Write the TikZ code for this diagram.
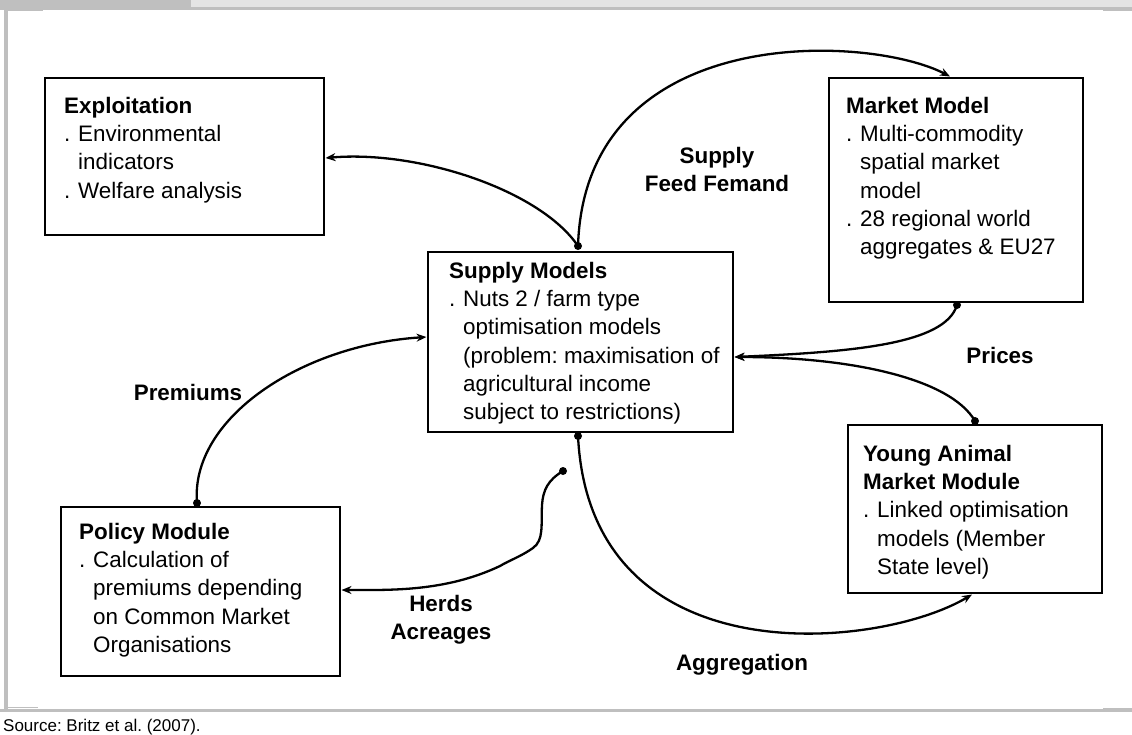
\documentclass[tikz,border=0pt]{standalone}
\usepackage{fontspec}
\setmainfont{Liberation Sans}
\usetikzlibrary{arrows.meta,calc}
\frenchspacing

\definecolor{framegray}{HTML}{BFBFBF}
\definecolor{bandgray}{HTML}{E4E4E4}

% bullet marker and hanging indent for the box texts
\newcommand\bulletdot{\makebox[14pt][l]{.}}
\newcommand\bulletgap{\hspace*{14pt}}
% fixed first-line height, so that the text's top lies 20pt above its first baseline
\newcommand\firstline{\rule{0pt}{20pt}}

\begin{document}
\begin{tikzpicture}[x=1pt,y=-1pt,
  modelbox/.style={draw, line width=2.6pt, rectangle, inner sep=0pt, outer sep=0pt},
  boxtext/.style={anchor=north west, align=left, inner sep=0pt,
    font=\fontsize{22.4}{28.3}\selectfont},
  flowlabel/.style={align=center, inner sep=0pt,
    font=\fontsize{22.4}{28}\selectfont\bfseries},
  link/.style={line width=2.3pt, -{Stealth[length=10pt,width=8pt]}},
  joint/.style={fill=black}
]
\useasboundingbox (0,0) rectangle (1132,734);

% page frame: header band, left rule, bottom rule
\fill[framegray] (0,0) rectangle (191,10);
\fill[bandgray] (191,0) rectangle (1132,7);
\fill[framegray] (191,7) rectangle (1132,10);
\fill[framegray] (1103,10) rectangle (1132,11);
\fill[framegray] (8,10) rectangle (43,11);
\fill[framegray] (4,10) rectangle (8,709);
\fill[framegray] (8,706.5) rectangle (38,707.5);
\fill[framegray] (1103,707.5) rectangle (1132,709);
\fill[framegray] (0,709) rectangle (1132,712);

% model boxes
\node[modelbox, minimum width=279pt, minimum height=157pt] (ex) at (184.5,156.5) {};
\node[modelbox, minimum width=254pt, minimum height=224pt] (mm) at (956,190) {};
\node[modelbox, minimum width=305pt, minimum height=180pt] (sm) at (580.5,342) {};
\node[modelbox, minimum width=279pt, minimum height=169pt] (pm) at (200.5,591.5) {};
\node[modelbox, minimum width=254pt, minimum height=168pt] (ya) at (975,509) {};

% box contents (offsets give the first baseline minus 20pt)
\node[boxtext] (extext) at ($(ex.north west)+(19,15)$)
  {\firstline\textbf{Exploitation}\\
   \bulletdot Environmental\\
   \bulletgap indicators\\
   \bulletdot Welfare analysis};
\node[boxtext] (mmtext) at ($(mm.north west)+(17,15)$)
  {\firstline\textbf{Market Model}\\
   \bulletdot Multi-commodity\\
   \bulletgap spatial market\\
   \bulletgap model\\
   \bulletdot 28 regional world\\
   \bulletgap aggregates \& EU27};
\node[boxtext] (smtext) at ($(sm.north west)+(21,6)$)
  {\firstline\textbf{Supply Models}\\
   \bulletdot Nuts 2 / farm type\\
   \bulletgap optimisation models\\
   \bulletgap (problem: maximisation of\\
   \bulletgap agricultural income\\
   \bulletgap subject to restrictions)};
\node[boxtext] (pmtext) at ($(pm.north west)+(18,12)$)
  {\firstline\textbf{Policy Module}\\
   \bulletdot Calculation of\\
   \bulletgap premiums depending\\
   \bulletgap on Common Market\\
   \bulletgap Organisations};
\node[boxtext] (yatext) at ($(ya.north west)+(15,16)$)
  {\firstline\textbf{Young Animal}\\
   \textbf{Market Module}\\
   \bulletdot Linked optimisation\\
   \bulletgap models (Member\\
   \bulletgap State level)};

% connector ends
\coordinate (smN) at ($(sm.north)+(-2.5,-6)$);
\coordinate (smS) at ($(sm.south)+(-2.5,4)$);
\coordinate (smE) at ($(sm.east)+(1.5,15)$);
\coordinate (smW) at ($(sm.west)+(-1.5,-5)$);
\coordinate (exE) at ($(ex.east)+(1.5,1.5)$);
\coordinate (mmN) at ($(mm.north)+(-6,-1.5)$);
\coordinate (mmS) at ($(mm.south)+(1,3)$);
\coordinate (yaN) at ($(ya.north)+(0,-4)$);
\coordinate (yaS) at ($(ya.south)+(-3,1.5)$);
\coordinate (pmN) at ($(pm.north)+(-3.5,-4)$);
\coordinate (pmE) at ($(pm.east)+(1.5,-1.5)$);
\coordinate (hd) at ($(sm.south)+(-17.5,39)$);

% connectors
\draw[link] (smN) .. controls +(-38,-56) and +(93,-8) .. (exE);
\draw[link] (smN) .. controls +(7,-226) and +(-80,-42) .. (mmN);
\draw[link] (mmS) .. controls +(-12,40) and +(115,-5) .. (smE);
\draw[link] (yaN) .. controls +(-25,-43) and +(115,0) .. (smE);
\draw[link] (smS) .. controls +(12,244) and +(-92,55) .. (yaS);
\draw[link] (pmN) .. controls +(-7,-84) and +(-126,8) .. (smW);
\draw[link] (hd) .. controls (548,480) and (543,490) .. (542,505)
  .. controls (541,525) and (544,540) .. (533,548)
  .. controls (520,557) and (510,560) .. (500,566)
  .. controls (445,592) and (390,590) .. (pmE);

% connector origins
\foreach \p in {smN,smS,mmS,yaN,pmN,hd}
  \fill[joint] (\p) circle (4);

% flow labels
\node[flowlabel] (lfeed) at (717,169) {Supply\\Feed Femand};
\node[flowlabel] (lprem) at (188,392) {Premiums};
\node[flowlabel] (lprice) at (1000,355) {Prices};
\node[flowlabel] (lherd) at (441,620) {Herds\\Acreages};
\node[flowlabel] (lagg) at (742,665) {Aggregation};

% source line
\node[anchor=base west, inner sep=0pt, font=\fontsize{17}{19}\selectfont]
  (src) at (3,731) {Source: Britz et al. (2007).};
\end{tikzpicture}
\end{document}
